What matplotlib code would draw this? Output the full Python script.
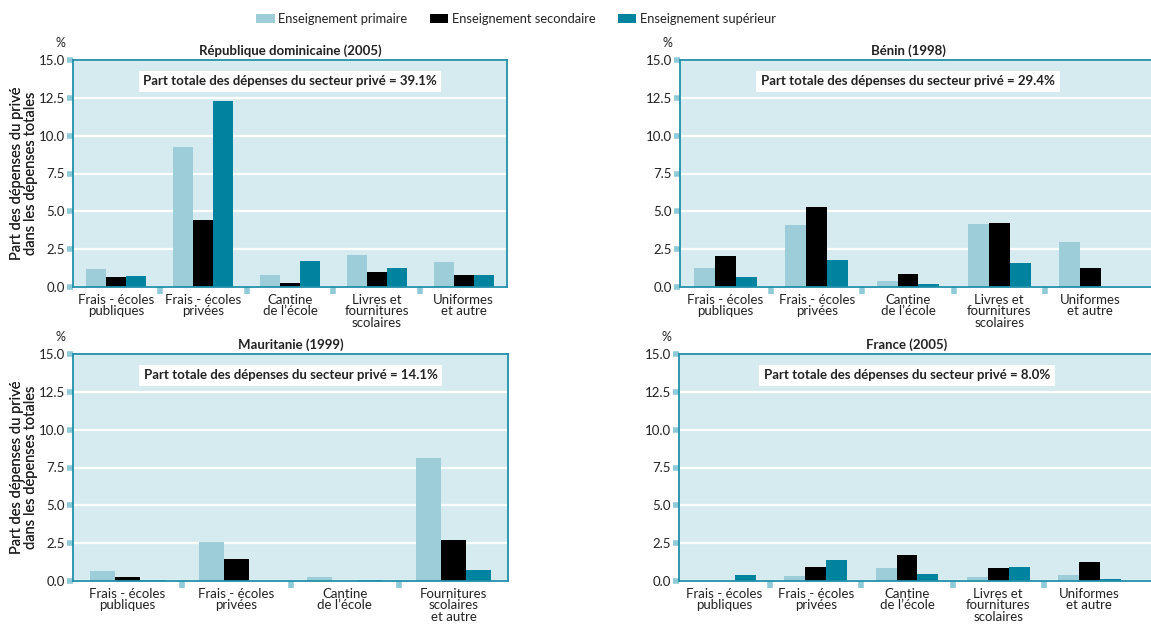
import numpy as np
import matplotlib
matplotlib.use("Agg")  # no display in the sandbox
import matplotlib.pyplot as plt
from matplotlib.patches import Patch

plt.rcParams["font.family"] = ["Lato", "DejaVu Sans"]

W, H = 1151, 625

series = ["Enseignement primaire", "Enseignement secondaire", "Enseignement supérieur"]
colors = ["#9ccdd9", "#000000", "#00839e"]

cats_5 = ["Frais - écoles\npubliques", "Frais - écoles\nprivées", "Cantine\nde l’école",
          "Livres et\nfournitures\nscolaires", "Uniformes\net autre"]
cats_4 = ["Frais - écoles\npubliques", "Frais - écoles\nprivées", "Cantine\nde l’école",
          "Fournitures\nscolaires\net autre"]

# République dominicaine (2005)
rd_primaire = [1.17, 9.28, 0.77, 2.09, 1.63]
rd_secondaire = [0.64, 4.40, 0.24, 0.97, 0.77]
rd_superieur = [0.70, 12.32, 1.69, 1.23, 0.77]

# Bénin (1998)
bj_primaire = [1.26, 4.10, 0.40, 4.17, 2.98]
bj_secondaire = [2.05, 5.29, 0.86, 4.24, 1.26]
bj_superieur = [0.66, 1.79, 0.20, 1.59, 0.0]

# Mauritanie (1999)
mr_primaire = [0.64, 2.55, 0.24, 8.15]
mr_secondaire = [0.24, 1.43, 0.0, 2.68]
mr_superieur = [0.04, 0.02, 0.04, 0.70]

# France (2005)
fr_primaire = [0.0, 0.33, 0.86, 0.27, 0.40]
fr_secondaire = [0.0, 0.93, 1.73, 0.86, 1.26]
fr_superieur = [0.40, 1.39, 0.46, 0.93, 0.13]

titles = ["République dominicaine (2005)", "Bénin (1998)", "Mauritanie (1999)", "France (2005)"]
totals = ["39.1%", "29.4%", "14.1%", "8.0%"]

panels = [
    (cats_5, [rd_primaire, rd_secondaire, rd_superieur]),
    (cats_5, [bj_primaire, bj_secondaire, bj_superieur]),
    (cats_4, [mr_primaire, mr_secondaire, mr_superieur]),
    (cats_5, [fr_primaire, fr_secondaire, fr_superieur]),
]

# pixel boxes: left, top, right, bottom, width of the category span
boxes = [
    (73, 60, 507, 287, 434),
    (680, 60, 1165, 287, 456),
    (73, 354, 508, 581, 435),
    (679, 354, 1165, 581, 456),
]

fig = plt.figure(figsize=(W / 100, H / 100), dpi=100)

bg = "#d6ebf0"
spine_c = "#2191aa"
tick_c = "#8fcad8"
txt_c = "#222222"
bw = 0.23

for i, ((cats, vals), (l, t, r, b, span)) in enumerate(zip(panels, boxes)):
    ax = fig.add_axes([l / W, 1 - b / H, (r - l) / W, (b - t) / H])
    n = len(cats)
    x = np.arange(n)
    for k, v in enumerate(vals):
        ax.bar(x + (k - 1) * bw, v, width=bw, color=colors[k], zorder=2)

    step = span / n
    ax.set_xlim(-0.5, -0.5 + (r - l) / step)
    ax.set_ylim(0, 15)
    ax.set_facecolor(bg)
    ax.set_axisbelow(True)
    ax.yaxis.grid(True, color="white", lw=1.6)

    yt = np.arange(0, 15.1, 2.5)
    ax.set_yticks(yt)
    ax.set_yticklabels([f"{v:.1f}" for v in yt])
    ax.tick_params(axis="y", length=4, width=4, color=tick_c, labelsize=9.5,
                   labelcolor=txt_c, pad=2)
    ax.set_xticks(x)
    ax.set_xticklabels(cats, linespacing=0.95)
    ax.tick_params(axis="x", which="major", length=0, labelsize=9.5,
                   labelcolor=txt_c, pad=5)
    ax.set_xticks(np.arange(0.5, n - 1), minor=True)
    ax.tick_params(axis="x", which="minor", length=5, width=4, color=tick_c)

    for s in ax.spines.values():
        s.set_color(spine_c)
        s.set_linewidth(1.3)

    center = (n - 1) / 2
    ax.annotate(titles[i], xy=(center, 1), xycoords=("data", "axes fraction"),
                xytext=(0, 6.5), textcoords="offset points", ha="center", va="center",
                fontsize=9.5, fontweight="bold", color=txt_c)
    ax.text(center, 13.6, "Part totale des dépenses du secteur privé = " + totals[i],
            ha="center", va="center", fontsize=9.5, fontweight="bold", color=txt_c,
            bbox=dict(boxstyle="square,pad=0.35", fc="white", ec="none"), zorder=5)

    fig.text((l - 13) / W, 1 - (t - 17) / H, "%", ha="center", va="center",
             fontsize=9, color=txt_c)
    fig.text(24 / W, 1 - ((t + b) / 2) / H,
             "Part des dépenses du privé\ndans les dépenses totales",
             rotation=90, ha="center", va="center", fontsize=10.5, color=txt_c,
             linespacing=1.0)

handles = [Patch(facecolor=c, edgecolor="none") for c in colors]
fig.legend(handles, series, loc="center", bbox_to_anchor=(516 / W, 1 - 19 / H), ncol=3,
           frameon=False, handlelength=1.45, handleheight=0.6, handletextpad=0.3,
           columnspacing=1.7, fontsize=9.3, labelcolor=txt_c)

fig.savefig("out.png", dpi=100)
